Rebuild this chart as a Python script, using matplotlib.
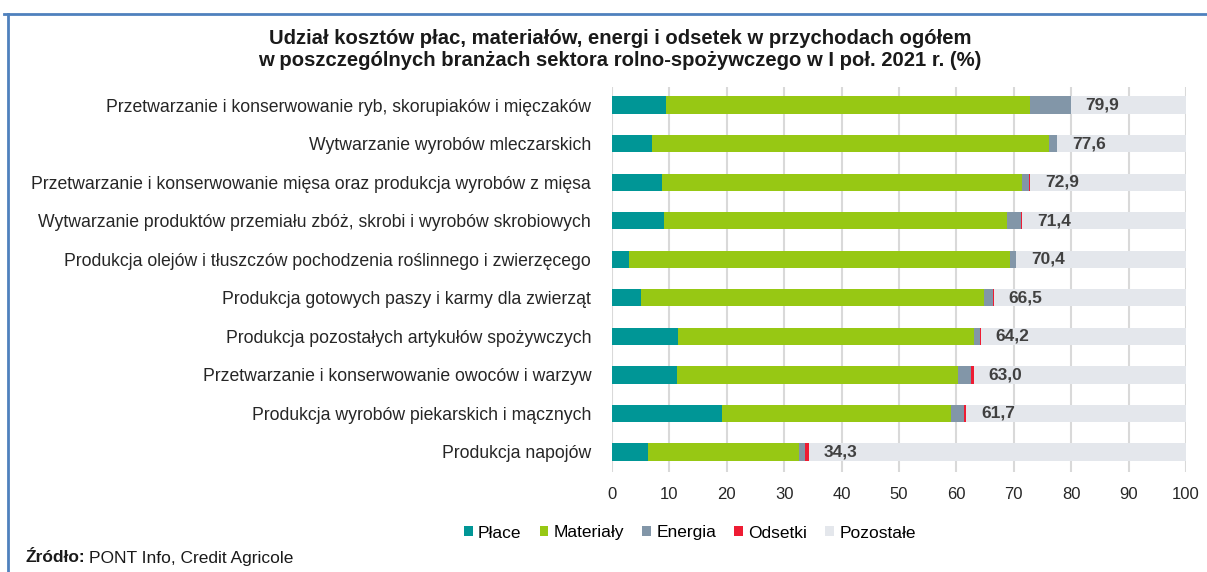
import matplotlib
matplotlib.use("Agg")
import matplotlib.pyplot as plt
from matplotlib.lines import Line2D
from matplotlib.patches import Patch
import numpy as np

plt.rcParams['font.family'] = ['Liberation Sans', 'DejaVu Sans']

categories = [
    "Przetwarzanie i konserwowanie ryb, skorupiaków i mięczaków",
    "Wytwarzanie wyrobów mleczarskich",
    "Przetwarzanie i konserwowanie mięsa oraz produkcja wyrobów z mięsa",
    "Wytwarzanie produktów przemiału zbóż, skrobi i wyrobów skrobiowych",
    "Produkcja olejów i tłuszczów pochodzenia roślinnego i zwierzęcego",
    "Produkcja gotowych paszy i karmy dla zwierząt",
    "Produkcja pozostałych artykułów spożywczych",
    "Przetwarzanie i konserwowanie owoców i warzyw",
    "Produkcja wyrobów piekarskich i mącznych",
    "Produkcja napojów",
]
place = [9.4, 7.0, 8.7, 9.0, 3.0, 5.0, 11.5, 11.3, 19.1, 6.2]
materialy = [63.4, 69.1, 62.8, 59.8, 66.3, 59.8, 51.5, 49.0, 40.0, 26.4]
energia = [7.1, 1.4, 1.2, 2.4, 1.0, 1.6, 1.1, 2.3, 2.3, 1.0]
odsetki = [0.0, 0.1, 0.2, 0.2, 0.1, 0.1, 0.1, 0.4, 0.3, 0.7]
totals = [79.9, 77.6, 72.9, 71.4, 70.4, 66.5, 64.2, 63.0, 61.7, 34.3]
pozostale = [round(100 - t, 1) for t in totals]

series_names = ["Płace", "Materiały", "Energia", "Odsetki", "Pozostałe"]
colors = ["#009696", "#97C814", "#8296A8", "#EE1C33", "#E4E7EC"]

fig = plt.figure(figsize=(12.07, 5.72), dpi=100)
ax = fig.add_axes([612/1207, 1 - 472/572, (1186-612)/1207, (472-87)/572])

y = np.arange(len(categories))
left = np.zeros(len(categories))
for vals, c in zip([place, materialy, energia, odsetki, pozostale], colors):
    ax.barh(y, vals, left=left, height=0.45, color=c, zorder=3)
    left += np.array(vals)

for yi, t in zip(y, totals):
    ax.text(t + 2.6, yi, f"{t:.1f}".replace(".", ","), va="center", ha="left",
            fontsize=12.5, fontweight="bold", color="#404040", zorder=4)

ax.set_xlim(0, 100)
ax.set_ylim(len(categories) - 0.48, -0.47)
ax.set_xticks(np.arange(0, 101, 10))
ax.set_yticks(y)
ax.set_yticklabels(categories, fontsize=12.7, color="#262626")
ax.tick_params(axis="x", labelsize=12, colors="#262626", length=0, pad=11)
ax.tick_params(axis="y", length=0, pad=15)
ax.grid(axis="x", color="#D9D9D9", linewidth=1.5, zorder=0)
for s in ax.spines.values():
    s.set_visible(False)

fig.text(620/1207, 1 - 39/572, "Udział kosztów płac, materiałów, energi i odsetek w przychodach ogółem",
         ha="center", va="center", fontsize=14.6, fontweight="bold", color="#1a1a1a")
fig.text(620/1207, 1 - 61/572, "w poszczególnych branżach sektora rolno-spożywczego w I poł. 2021 r. (%)",
         ha="center", va="center", fontsize=14.6, fontweight="bold", color="#1a1a1a")

handles = [Patch(facecolor=c, edgecolor="none") for c in colors]
fig.legend(handles, series_names, loc="center", bbox_to_anchor=(690/1207, 1 - 533/572),
           ncol=5, frameon=False, fontsize=12.5, handlelength=0.5, handleheight=0.5,
           handletextpad=0.3, columnspacing=1.05)

t1 = fig.text(25/1207, 1 - 558/572, "Źródło:", ha="left", va="center", fontsize=12.5,
              fontweight="bold", color="#1a1a1a")
fig.canvas.draw()
bb = t1.get_window_extent(renderer=fig.canvas.get_renderer())
fig.text((bb.x1 + 4) / 1207, 1 - 558/572, "PONT Info, Credit Agricole", ha="left", va="center",
         fontsize=12.5, color="#1a1a1a")

# frame lines (top and left)
fig.add_artist(Line2D([4/1207, 1], [1 - 14/572, 1 - 14/572], color="#4F81BD", linewidth=2,
                      transform=fig.transFigure))
fig.add_artist(Line2D([8/1207, 8/1207], [0, 1 - 14/572], color="#4F81BD", linewidth=2,
                      transform=fig.transFigure))

fig.savefig("out.png", dpi=100)
